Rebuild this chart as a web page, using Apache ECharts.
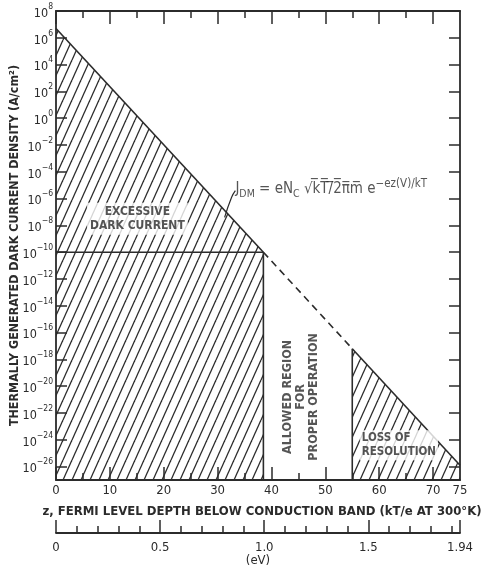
<!DOCTYPE html>
<html>
<head>
<meta charset="utf-8">
<script src="https://cdn.jsdelivr.net/npm/echarts@6/dist/echarts.min.js"></script>
<style>
  html, body { margin: 0; padding: 0; background: #fff; }
  #chart { width: 485px; height: 567px; }
</style>
</head>
<body>
<div id="chart"></div>
<script>
// Boundary of the dark-current curve: Fermi level depth z (kT/e) vs log10 J_DM (A/cm^2)
const zPoints = [0, 38.5, 55, 75];
const logJPoints = [6.7, -10, -17.2, -25.9];
const logJFloor = -27;
const logJCeil = 8;

// Tick positions and labels
const yTickExps = [8, 6, 4, 2, 0, -2, -4, -6, -8, -10, -12, -14, -16, -18, -20, -22, -24, -26];
const zTickMajor = [0, 10, 20, 30, 40, 50, 60, 70];
const zTickMinor = [5, 15, 25, 35, 45, 55, 65];
const zTickLabels = [0, 10, 20, 30, 40, 50, 60, 70, 75];
const evTickMajor = [0, 0.5, 1.0, 1.5, 1.94];
const evTickMinor = [0.1, 0.2, 0.3, 0.4, 0.6, 0.7, 0.8, 0.9, 1.1, 1.2, 1.3, 1.4, 1.6, 1.7, 1.8, 1.9];
const evLabels = ['0', '0.5', '1.0', '1.5', '1.94'];

const INK = '#2b2b2b';
const FONT = '"DejaVu Sans Condensed", "DejaVu Sans", sans-serif';

// Diagonal hatch tile
function hatchTile() {
  const w = 9, h = 20;
  const c = document.createElement('canvas');
  c.width = w; c.height = h;
  const g = c.getContext('2d');
  g.strokeStyle = INK;
  g.lineWidth = 1.3;
  for (let k = -1; k <= 1; k++) {
    g.beginPath();
    g.moveTo(k * w, h);
    g.lineTo((k + 1) * w, 0);
    g.stroke();
  }
  return { image: c, repeat: 'repeat' };
}
const hatch = hatchTile();

const chart = echarts.init(document.getElementById('chart'), null, { renderer: 'canvas' });

function seg(i, j) {
  return [[zPoints[i], logJPoints[i]], [zPoints[j], logJPoints[j]]];
}
function lineSeries(data, extra) {
  return Object.assign({
    type: 'line', data: data, symbol: 'none', silent: true,
    lineStyle: { color: INK, width: 1.6 }, z: 5
  }, extra || {});
}

const overline = s => s.split('').map(ch => ch + '\u0305').join('');

const axisLineStyle = { show: true, onZero: false, lineStyle: { color: INK, width: 1.8 } };
const noLine = { show: false, onZero: false };
const tickStyle = { color: INK, width: 1.5 };

const option = {
  backgroundColor: '#fff',
  animation: false,
  textStyle: { fontFamily: FONT, color: INK },
  grid: [
    { left: 56, right: 25, top: 11, bottom: 87, outerBoundsMode: 'none', containLabel: false },
    { left: 56, right: 25, top: 532, height: 1, outerBoundsMode: 'none', containLabel: false }
  ],
  xAxis: [
    {
      gridIndex: 0, type: 'value', min: 0, max: 75, position: 'bottom',
      axisLine: axisLineStyle,
      axisTick: { show: true, inside: true, length: 13, lineStyle: tickStyle, customValues: zTickMajor },
      axisLabel: { show: true, customValues: zTickLabels, margin: 4, fontSize: 13, fontFamily: FONT, color: INK },
      splitLine: { show: false },
      name: 'z, FERMI LEVEL DEPTH BELOW CONDUCTION BAND (kT/e AT 300°K)',
      nameLocation: 'middle', nameGap: 25, nameMoveOverlap: false,
      nameTextStyle: { fontSize: 13, fontFamily: FONT, fontWeight: 'bold', color: INK, padding: [0, 0, 0, 8] }
    },
    {
      gridIndex: 0, type: 'value', min: 0, max: 75, position: 'bottom',
      axisLine: noLine,
      axisTick: { show: true, inside: true, length: 7, lineStyle: tickStyle, customValues: zTickMinor },
      axisLabel: { show: false }, splitLine: { show: false }
    },
    {
      gridIndex: 0, type: 'value', min: 0, max: 75, position: 'top',
      axisLine: axisLineStyle,
      axisTick: { show: true, inside: true, length: 13, lineStyle: tickStyle, customValues: zTickMajor },
      axisLabel: { show: false }, splitLine: { show: false }
    },
    {
      gridIndex: 0, type: 'value', min: 0, max: 75, position: 'top',
      axisLine: noLine,
      axisTick: { show: true, inside: true, length: 7, lineStyle: tickStyle, customValues: zTickMinor },
      axisLabel: { show: false }, splitLine: { show: false }
    },
    {
      gridIndex: 1, type: 'value', min: 0, max: 1.94, position: 'bottom',
      axisLine: axisLineStyle,
      axisTick: { show: true, inside: true, length: 13, lineStyle: tickStyle, customValues: evTickMajor },
      axisLabel: {
        show: true, customValues: evTickMajor, margin: 8, fontSize: 13, fontFamily: FONT, color: INK,
        formatter: v => evLabels[evTickMajor.indexOf(v)] ?? String(v)
      },
      splitLine: { show: false },
      name: '(eV)', nameLocation: 'middle', nameGap: 21, nameMoveOverlap: false,
      nameTextStyle: { fontSize: 13, fontFamily: FONT, color: INK }
    },
    {
      gridIndex: 1, type: 'value', min: 0, max: 1.94, position: 'bottom',
      axisLine: noLine,
      axisTick: { show: true, inside: true, length: 7, lineStyle: tickStyle, customValues: evTickMinor },
      axisLabel: { show: false }, splitLine: { show: false }
    }
  ],
  yAxis: [
    {
      gridIndex: 0, type: 'value', min: logJFloor, max: logJCeil, position: 'left',
      axisLine: axisLineStyle,
      axisTick: { show: true, inside: true, length: 11, lineStyle: tickStyle, customValues: yTickExps },
      axisLabel: {
        show: true, customValues: yTickExps, margin: 3,
        formatter: v => '{b|10}{s|' + (v < 0 ? '\u2212' + (-v) : v) + '}',
        rich: {
          b: { fontSize: 12.5, fontFamily: FONT, color: INK, lineHeight: 18, verticalAlign: 'bottom' },
          s: { fontSize: 8.5, fontFamily: FONT, color: INK, lineHeight: 10, verticalAlign: 'top' }
        }
      },
      splitLine: { show: false },
      name: 'THERMALLY GENERATED DARK CURRENT DENSITY (A/cm²)',
      nameLocation: 'middle', nameGap: 35, nameRotate: 90, nameMoveOverlap: false,
      nameTextStyle: { fontSize: 12.4, fontFamily: FONT, fontWeight: 'bold', color: INK }
    },
    {
      gridIndex: 0, type: 'value', min: logJFloor, max: logJCeil, position: 'right',
      axisLine: axisLineStyle,
      axisTick: { show: true, inside: true, length: 11, lineStyle: tickStyle, customValues: yTickExps },
      axisLabel: { show: false }, splitLine: { show: false }
    },
    {
      gridIndex: 1, type: 'value', min: 0, max: 1, show: false
    }
  ],
  series: [
    // Excessive dark current: area beneath the curve up to the 10^-10 crossing
    lineSeries(seg(0, 1), { areaStyle: { color: hatch, origin: 'start', opacity: 1 } }),
    // 10^-10 A/cm^2 limit
    lineSeries([[zPoints[0], logJPoints[1]], [zPoints[1], logJPoints[1]]]),
    lineSeries([[zPoints[1], logJPoints[1]], [zPoints[1], logJFloor]]),
    // Allowed region: curve continues dashed
    lineSeries(seg(1, 2), { lineStyle: { color: INK, width: 1.6, type: [7, 5] } }),
    // Loss of resolution
    lineSeries(seg(2, 3), { areaStyle: { color: hatch, origin: 'start', opacity: 1 } }),
    lineSeries([[zPoints[2], logJPoints[2]], [zPoints[2], logJFloor]]),
    // Leader from the formula to the curve
    lineSeries([[31.3, -7.4], [32.6, -5.9], [33.3, -5.4]], { smooth: true, lineStyle: { color: INK, width: 1.2 } }),
    // Region and formula annotations
    {
      type: 'scatter', symbolSize: 0, silent: true, z: 10,
      data: [
        {
          value: [15.1, -7.5],
          label: {
            show: true, position: 'inside', align: 'center', verticalAlign: 'middle',
            formatter: 'EXCESSIVE\nDARK CURRENT', lineHeight: 14,
            fontSize: 12, fontWeight: 'bold', fontFamily: FONT, color: INK,
            backgroundColor: '#fff', padding: [2, 3]
          }
        },
        {
          value: [45.4, -20.8],
          label: {
            show: true, position: 'inside', align: 'center', verticalAlign: 'middle', rotate: 90,
            formatter: 'ALLOWED REGION\nFOR\nPROPER OPERATION', lineHeight: 13,
            fontSize: 12.5, fontWeight: 'bold', fontFamily: FONT, color: INK
          }
        },
        {
          value: [56.4, -24.4],
          label: {
            show: true, position: 'inside', align: 'left', verticalAlign: 'middle',
            formatter: 'LOSS OF\nRESOLUTION', lineHeight: 14,
            fontSize: 11.5, fontWeight: 'bold', fontFamily: FONT, color: INK,
            backgroundColor: '#fff', padding: [1, 2]
          }
        },
        {
          value: [33.3, -5.3],
          label: {
            show: true, position: 'inside', align: 'left', verticalAlign: 'middle',
            formatter: '{t|J}{sub|DM}{t| = eN}{sub|C}{t| \u221A' + overline('kT/2\u03C0m') + ' e}{sup|\u2212ez(V)/kT}',
            rich: {
              t: { fontSize: 15, fontFamily: FONT, color: INK, lineHeight: 22 },
              sub: { fontSize: 10.5, fontFamily: FONT, color: INK, lineHeight: 11, verticalAlign: 'bottom' },
              sup: { fontSize: 11.5, fontFamily: FONT, color: INK, lineHeight: 11, verticalAlign: 'top' }
            }
          }
        }
      ]
    }
  ]
};

chart.setOption(option);
</script>
</body>
</html>
